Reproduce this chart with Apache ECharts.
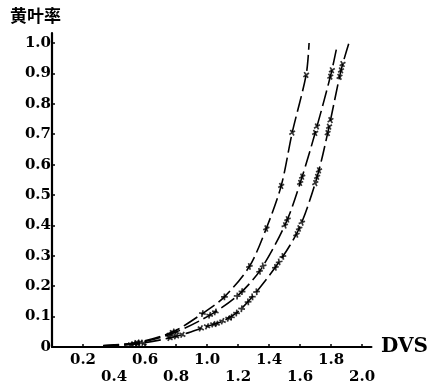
<!DOCTYPE html>
<html><head><meta charset="utf-8">
<script src="https://cdn.jsdelivr.net/npm/echarts@6/dist/echarts.min.js"></script>
<style>html,body{margin:0;padding:0;background:#fff}#c{width:431px;height:386px}</style>
</head><body><div id="c"></div>
<script>
// ---- data ----
const yTitle = '黄叶率';
const xName = 'DVS';
const xTickLabels = ['0.2','0.4','0.6','0.8','1.0','1.2','1.4','1.6','1.8','2.0'];
const yTickLabels = ['0','0.1','0.2','0.3','0.4','0.5','0.6','0.7','0.8','0.9','1.0'];

const curveA_x = [0.33, 0.55, 0.78, 0.97, 1.112, 1.273, 1.382, 1.478, 1.549, 1.639, 1.658];
const curveA_y = [0.005, 0.015, 0.05, 0.11, 0.165, 0.265, 0.39, 0.53, 0.705, 0.895, 1.0];

const curveB_x = [0.33, 0.55, 0.78, 1.035, 1.21, 1.35, 1.51, 1.607, 1.703, 1.80, 1.838];
const curveB_y = [0.004, 0.013, 0.045, 0.11, 0.175, 0.258, 0.41, 0.55, 0.715, 0.90, 0.99];

const curveC_x = [0.33, 0.55, 0.80, 1.0, 1.10, 1.19, 1.292, 1.465, 1.594, 1.71, 1.787, 1.864, 1.915];
const curveC_y = [0.003, 0.01, 0.035, 0.068, 0.085, 0.112, 0.165, 0.28, 0.39, 0.56, 0.725, 0.91, 1.0];

// ---- styles ----
const FONT = '"DejaVu Serif", "Liberation Serif", serif';
const crossPath = n => {
  let d = '';
  for (let k = 0; k < n; k++) {
    const o = k * 11;
    d += `M${o},2L${o+2},0L${o+5},3L${o+8},0L${o+10},2L${o+7},5L${o+10},8L${o+8},10L${o+5},7L${o+2},10L${o},8L${o+3},5Z`;
  }
  return 'path://' + d;
};
const curves = [
  {x: curveA_x, y: curveA_y, n: 1},
  {x: curveB_x, y: curveB_y, n: 2},
  {x: curveC_x, y: curveC_y, n: 3}
];

const chart = echarts.init(document.getElementById('c'));

function buildSeries(rot) {
  const s = [];
  curves.forEach((c, ci) => {
    const pts = c.x.map((v, i) => [v, c.y[i]]);
    s.push({
      type: 'line', data: pts, smooth: 0.3, symbol: 'none', silent: true,
      lineStyle: {color: '#000', width: 1.6, type: [16, 5]}
    });
    const mk = pts.slice(1, pts.length - 1).map((p, i) => ({
      value: p,
      symbolRotate: rot ? rot[ci][i] : 0
    }));
    s.push({
      type: 'scatter', data: mk, symbol: crossPath(c.n),
      symbolSize: [c.n * 6 + (c.n - 1) * 0.6, 6],
      itemStyle: {color: '#000'}, silent: true, z: 3
    });
  });
  return s;
}

const option = {
  animation: false,
  backgroundColor: '#fff',
  grid: {left: 52, right: 59, top: 33, bottom: 38},
  graphic: [{
    type: 'text', left: 10, top: 7,
    style: {text: yTitle, font: 'bold 17px "Noto Sans CJK SC"', fill: '#000'}
  }],
  xAxis: {
    type: 'value', min: 0, max: 2.06, interval: 0.2,
    name: xName, nameLocation: 'end', nameGap: 3,
    nameTextStyle: {fontFamily: FONT, fontWeight: 'bold', fontSize: 20, color: '#000', verticalAlign: 'middle'},
    axisLine: {show: true, lineStyle: {color: '#000', width: 2.2}},
    axisTick: {show: true, inside: true, length: 3, lineStyle: {color: '#000', width: 1.5}},
    splitLine: {show: false},
    axisLabel: {
      margin: 5, fontFamily: FONT, fontWeight: 'bold', fontSize: 15, color: '#000', lineHeight: 17,
      showMaxLabel: false,
      formatter: v => {
        const lab = v.toFixed(1);
        const idx = xTickLabels.indexOf(lab);
        if (idx < 0 || Math.abs(v - parseFloat(lab)) > 1e-6) return '';
        return idx % 2 === 1 ? '\n' + lab : lab;
      }
    }
  },
  yAxis: {
    type: 'value', min: 0, max: 1.033, interval: 0.1,
    axisLine: {show: true, lineStyle: {color: '#000', width: 2.2}},
    axisTick: {show: true, inside: true, length: 3, lineStyle: {color: '#000', width: 1.5}},
    splitLine: {show: false},
    axisLabel: {
      margin: 1, fontFamily: FONT, fontWeight: 'bold', fontSize: 15, color: '#000',
      showMaxLabel: false,
      formatter: v => {
        const lab = v === 0 ? '0' : v.toFixed(1);
        const idx = yTickLabels.indexOf(lab);
        if (idx < 0 || Math.abs(v - parseFloat(lab)) > 1e-6) return '';
        return lab;
      }
    }
  },
  series: buildSeries(null)
};
chart.setOption(option);

// align marker rotation with the curve tangent in pixel space
const rot = curves.map(c => {
  const px = c.x.map((v, i) => chart.convertToPixel({gridIndex: 0}, [v, c.y[i]]));
  const r = [];
  for (let i = 1; i < px.length - 1; i++) {
    const dx = px[i + 1][0] - px[i - 1][0];
    const dy = px[i + 1][1] - px[i - 1][1];
    r.push(-Math.atan2(dy, dx) * 180 / Math.PI);
  }
  return r;
});
chart.setOption({series: buildSeries(rot)});
</script>
</body></html>
